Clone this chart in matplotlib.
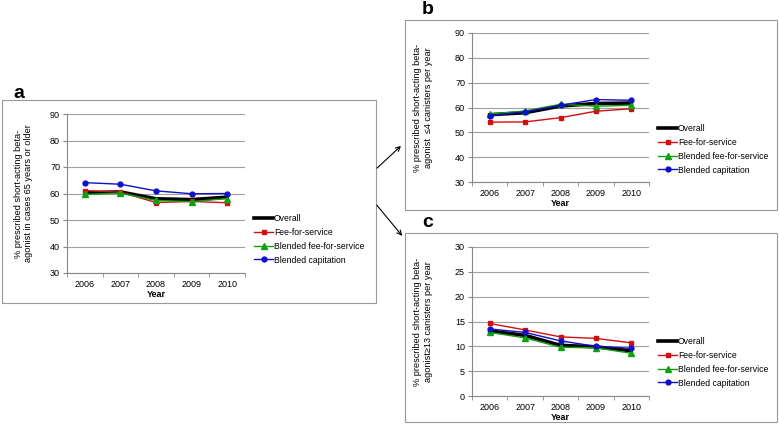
import matplotlib.pyplot as plt
from matplotlib.patches import Rectangle, FancyArrowPatch

plt.rcParams['font.family'] = ['Liberation Sans', 'DejaVu Sans']

years = ['2006', '2007', '2008', '2009', '2010']
series_names = ['Overall', 'Fee-for-service', 'Blended fee-for-service', 'Blended capitation']

# panel a: cases 65 years or older
a_overall = [60.3, 60.6, 58.0, 57.7, 58.6]
a_ffs = [61.1, 60.5, 56.6, 57.0, 56.5]
a_bffs = [59.7, 60.1, 57.4, 56.9, 58.1]
a_bcap = [64.1, 63.5, 61.0, 59.9, 60.0]

# panel b: <=4 canisters per year
b_overall = [57.1, 57.9, 60.6, 61.6, 61.8]
b_ffs = [54.1, 54.2, 55.9, 58.5, 59.5]
b_bffs = [57.4, 58.6, 61.3, 60.5, 60.9]
b_bcap = [56.7, 58.3, 60.9, 63.2, 62.9]

# panel c: >=13 canisters per year
c_overall = [13.1, 12.2, 10.2, 9.9, 9.1]
c_ffs = [14.6, 13.3, 11.9, 11.6, 10.7]
c_bffs = [12.8, 11.7, 9.8, 9.7, 8.6]
c_bcap = [13.5, 12.8, 11.1, 10.0, 9.6]

W, H = 779, 424
fig = plt.figure(figsize=(W / 100, H / 100), dpi=100)


def fx(px):
    return px / W


def fy(py):
    return 1 - py / H


def panel(left, top, right, bottom, data, ylim, yticks, ylabel, ylabelpad, leg_xy):
    ax = fig.add_axes([fx(left), fy(bottom), fx(right - left), (bottom - top) / H])
    x = range(len(years))
    overall, ffs, bffs, bcap = data
    ax.plot(x, overall, color='black', lw=2.6, label=series_names[0])
    ax.plot(x, ffs, color='#d01010', lw=1.0, marker='s', ms=3.5, label=series_names[1])
    ax.plot(x, bffs, color='#10a010', lw=1.0, marker='^', ms=3.8, label=series_names[2])
    ax.plot(x, bcap, color='#1010c8', lw=1.0, marker='o', ms=3.5, label=series_names[3])
    ax.set_xlim(-0.5, len(years) - 0.5)
    ax.set_ylim(*ylim)
    ax.set_yticks(yticks)
    ax.set_xticks(list(x))
    ax.set_xticklabels(years)
    ax.set_xticks([i - 0.5 for i in range(len(years) + 1)], minor=True)
    ax.tick_params(axis='x', which='major', length=0, labelsize=6.5, pad=5)
    ax.tick_params(axis='x', which='minor', length=3, color='#888888')
    ax.tick_params(axis='y', length=3, color='#888888', labelsize=6.5, pad=2)
    ax.yaxis.grid(True, color='#a0a0a0', lw=0.8)
    ax.set_axisbelow(True)
    for s in ['top', 'right']:
        ax.spines[s].set_visible(False)
    for s in ['left', 'bottom']:
        ax.spines[s].set_color('#888888')
    ax.set_xlabel('Year', fontsize=6.5, fontweight='bold', labelpad=1)
    ax.set_ylabel(ylabel, fontsize=6.6, labelpad=ylabelpad)
    ax.legend(loc='upper left', bbox_to_anchor=(fx(leg_xy[0]), fy(leg_xy[1])),
              bbox_transform=fig.transFigure, frameon=False, fontsize=6.2,
              handlelength=2.2, handletextpad=0.1, labelspacing=0.55, borderpad=0)
    return ax


# panel boxes
for (l, t, r, b) in [(2, 100, 376, 303), (405, 20, 777, 210), (405, 233, 777, 422)]:
    fig.add_artist(Rectangle((fx(l), fy(b)), fx(r - l), (b - t) / H,
                             transform=fig.transFigure, fill=False,
                             edgecolor='#999999', lw=0.8))

panel(67, 114, 245, 273, [a_overall, a_ffs, a_bffs, a_bcap], (30, 90),
      range(30, 91, 10),
      '% prescribed short-acting beta-\nagonist in cases 65 years or older', 12, (250, 210))
panel(472, 33, 649, 182, [b_overall, b_ffs, b_bffs, b_bcap], (30, 90),
      range(30, 91, 10),
      '% prescribed short-acting beta-\nagonist  \u22644 canisters per year', 16, (654, 120))
panel(472, 247, 649, 396, [c_overall, c_ffs, c_bffs, c_bcap], (0, 30),
      range(0, 31, 5),
      '% prescribed short-acting beta-\nagonist\u226513 canisters per year', 16, (654, 333))

fig.text(fx(13), fy(93), 'a', fontsize=14, fontweight='bold', va='center')
fig.text(fx(422), fy(9), 'b', fontsize=14, fontweight='bold', va='center')
fig.text(fx(422), fy(222), 'c', fontsize=14, fontweight='bold', va='center')

for (x0, y0, x1, y1) in [(375, 170, 403, 144), (375, 203, 404, 238)]:
    fig.add_artist(FancyArrowPatch((fx(x0), fy(y0)), (fx(x1), fy(y1)),
                                   transform=fig.transFigure, arrowstyle='->',
                                   mutation_scale=8, lw=0.8, color='black'))

fig.savefig('out.png', dpi=100, facecolor='white')
